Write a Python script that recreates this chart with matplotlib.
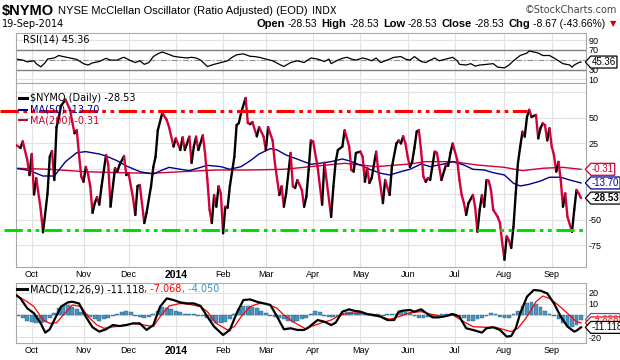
import numpy as np
import pandas as pd
import matplotlib
matplotlib.use("Agg")
import matplotlib.pyplot as plt
from matplotlib.collections import LineCollection
from matplotlib.lines import Line2D
from matplotlib.path import Path
from matplotlib import font_manager

# trading calendar, one session per x unit
holidays = ["2013-11-28", "2013-12-25", "2014-01-01", "2014-01-20", "2014-02-17",
            "2014-04-18", "2014-05-26", "2014-07-04", "2014-09-01"]
sessions = pd.bdate_range("2013-09-20", "2014-09-19", freq="C", holidays=holidays)

# $NYMO daily close (session number, value)
nymo_day = [0, 2, 3, 5, 6, 7, 8, 9, 11, 12, 14, 15, 16, 17, 18, 19, 20, 22, 24, 25,
            26, 27, 28, 29, 30, 31, 32, 33, 34, 35, 36, 37, 38, 40, 41, 42, 44, 45, 46, 48,
            49, 50, 52, 53, 54, 55, 57, 58, 60, 61, 62, 63, 65, 67, 68, 70, 71, 73, 74, 75,
            77, 78, 79, 80, 81, 83, 84, 85, 86, 87, 88, 89, 90, 91, 92, 93, 94, 95, 97, 98,
            99, 100, 102, 103, 104, 105, 107, 108, 110, 111, 112, 114, 115, 117, 118, 119, 120, 122, 123, 124,
            125, 127, 128, 129, 130, 131, 132, 134, 136, 137, 140, 141, 142, 143, 145, 146, 147, 148, 149, 150,
            151, 153, 154, 155, 156, 157, 158, 160, 161, 163, 164, 166, 167, 169, 170, 171, 172, 173, 174, 175,
            176, 177, 178, 179, 180, 181, 182, 183, 184, 186, 187, 188, 189, 191, 192, 193, 194, 196, 197, 198,
            199, 200, 201, 203, 204, 205, 206, 207, 208, 209, 210, 211, 212, 214, 215, 216, 217, 218, 219, 220,
            221, 222, 223, 224, 225, 226, 227, 228, 229, 231, 232, 233, 234, 235, 236, 237, 238, 239, 240, 241,
            242, 243, 244, 245, 247, 248, 249, 250, 251]
nymo = [23.5, 20.6, 27, 9, -6, 14.7, -25, -9, -40, -62, -24, 12, 17.6, -10.8, 41, 50, 62, 68, 58, 46,
        35, 38, 14, -7.5, -12.5, 2, -5, -17, -43, -33.5, -27.6, -35, -17, 13.7, 4, -37, 1, -2.6, 4, 12.7,
        -6, -4, -28.6, -45, -16.7, -15.7, -53, -43, -16.7, 2, 12, 38, 55, 48, 41, 22, 30, 18.6, 31, 18.6,
        31.7, 6, 22, 31.7, 18.6, 33, 15, -10, -40, -53, -25.5, -37, -17, -24, -63, -37, -38, -17, 12, 43,
        45, 55, 69.6, 45, 44, 46, 32, 41, 31.7, 18.6, 41, 28, 6, -25.5, -17, -37, -24, 15.7, -17, -18.6,
        -10.8, -20.6, -37, -27, -1, 28, 27, 2, -35, 6, -47, -17, 7, 18.6, 22, 38, 30, 22, -1, -2.6,
        15.7, 17, 12, -12.5, 1, -13.7, -9, 17, -2.6, -33.5, -10.8, -25.5, 2, 25, 28, 25, 32, 25, 12, 2,
        7, 20.6, 36.6, 38, 17, -7.5, -12.5, -9, -10.8, 17, 16, 2, -10.8, 4, 3, 15.7, 25, 9, -10.8, -25.5,
        -33.5, -45, -33.5, -25.5, -38, -61.5, -40, -25.5, -37, -10.8, -11.5, -20.6, -40, -47, -53, -72.5, -89, -66, -70, -77.5,
        -56.6, -24, 6, 22, 36.6, 31.7, 51, 58, 51, 53, 30, 40, 44.7, 43, 28, 40, 22, 13.7, -2.6, 7,
        -10.8, -37, -24, -47, -61.5, -40, -20.6, -24, -28.53]

ma50_day = [0, 6, 12, 17, 22, 27, 31, 37, 40, 45, 49, 55, 61, 65, 68, 73, 77, 82, 85, 91,
            95, 100, 104, 108, 113, 116, 120, 126, 131, 135, 140, 145, 148, 153, 157, 162, 166, 171, 175, 180,
            184, 190, 194, 199, 203, 208, 212, 217, 221, 224, 228, 233, 237, 242, 246, 251]
ma50 = [0.7, -1.6, -6.9, -6.9, 7.2, 16, 17, 14.7, 12.7, 8, 3, -2.6, -5, -1, 1.6, -0.3, -1.6, 1.6, 3.6, 2.3,
        -0.3, 2.3, 8, 14.7, 20, 18.6, 13.7, 8.8, 4.6, 5.6, 7.2, 9.8, 8, 3.9, -0.3, -4.2, -5.9, -2.6, -0.3, 4.9,
        2.3, 4.9, 7.2, 3.9, -0.3, -1, -3.6, -5.9, -14, -16.7, -15, -11.8, -8.1, -8.1, -10.8, -13.70]

ma200_day = [0, 15, 30, 45, 60, 74, 89, 104, 119, 131, 146, 160, 175, 182, 194, 205, 217, 225, 234, 243, 251]
ma200 = [0.7, -0.3, -2.6, -3.6, -4.2, -2.6, -1, -1, -0.3, 2.3, 5.6, 2.3, 4.9, 7.2, 7.2, 3.9, 1.6, -1.6, 0.7, 1.6, -0.31]

rsi_day = [0, 3, 5, 8, 9, 11, 13, 14, 17, 19, 21, 24, 27, 30, 32, 34, 37, 40, 42, 45,
           47, 48, 51, 53, 55, 57, 59, 61, 63, 65, 68, 70, 73, 76, 78, 80, 82, 85, 88, 91,
           94, 96, 98, 101, 104, 106, 108, 111, 114, 117, 119, 122, 125, 128, 131, 134, 137, 139, 140, 143,
           145, 147, 149, 151, 154, 156, 158, 160, 162, 164, 166, 168, 171, 173, 175, 177, 180, 182, 184, 186,
           188, 191, 194, 196, 197, 200, 202, 204, 206, 209, 212, 214, 217, 219, 221, 224, 227, 228, 230, 232,
           234, 237, 239, 241, 243, 246, 247, 248, 250, 251]
rsi = [51.4, 49.3, 45.7, 47.9, 42, 35.7, 44.3, 51.4, 53.6, 58.6, 56.4, 53.6, 50.7, 42, 39.3, 43.6, 46.4, 52.9, 49.3, 49.3,
       53.6, 55, 47.9, 44.3, 47.9, 40.7, 44.3, 56.4, 62, 65.7, 60.7, 57, 55, 53.6, 55, 53.6, 49.3, 36.4, 40.7, 44.3,
       47.9, 55, 60, 62, 57, 56.4, 55, 51.4, 47.9, 40.7, 36.4, 44.3, 47.9, 44.3, 53.6, 51.4, 46.4, 51.4, 42.1, 49.3,
       52.9, 55, 51.4, 49.3, 53.6, 51.4, 47.9, 53.6, 44.3, 47.9, 51.4, 55, 56.4, 51.4, 49.3, 56.4, 46.4, 44.3, 49.3, 53.6,
       47.9, 51.4, 55, 47.9, 40.7, 39.3, 42.1, 37.1, 39.3, 40.7, 42.1, 35, 33.6, 39.3, 47.9, 58.6, 63.6, 67.9, 65.7, 63.6,
       58.6, 58.6, 53.6, 47.9, 42.1, 39.3, 35, 39.3, 44.3, 45.36]

macd_day = [0, 2, 5, 8, 11, 13, 15, 17, 20, 23, 25, 28, 31, 34, 37, 40, 43, 46, 49, 52,
            55, 58, 61, 64, 67, 70, 73, 76, 79, 82, 85, 88, 92, 95, 98, 101, 104, 107, 110, 113,
            116, 119, 122, 125, 128, 130, 134, 137, 140, 142, 145, 148, 150, 153, 156, 159, 162, 165, 168, 170,
            172, 175, 177, 180, 182, 185, 188, 191, 194, 197, 200, 203, 207, 209, 212, 215, 218, 220, 222, 224,
            227, 230, 233, 236, 239, 242, 245, 248, 249, 251]
macd = [17.9, 14.9, 6, 1.5, -7.5, -15.8, -12.8, -4.5, 7.5, 11.3, 11.9, 10.4, -1.5, -11, -14.9, -12.8, -9, -9.9, -9, -7.5,
        -7.5, -13.4, -9, 7.5, 14.9, 13.4, 11.3, 10.4, 10.4, 8.1, -1.5, -10.4, -17.9, -13.4, 1.5, 13.4, 14, 11.9, 10.4, 9,
        -1.5, -12.8, -11.9, -13.4, -13.4, -11, -4.5, -6, -9, -6.9, 3, 5.1, 3.9, 3, 0.9, 0, -1.5, -4.5, -4.5, 3,
        3.9, 4.5, 3, 5.1, 2.1, -2.1, -2.1, -0.9, 0.9, -1.5, -11.9, -13.4, -15.8, -11.9, -11, -13.4, -19.4, -18.8, -11.9, 1.5,
        16.4, 22.4, 21.8, 19.4, 10.4, -1.5, -10.4, -14.9, -14, -11.118]

signal_day = [0, 5, 8, 12, 15, 18, 23, 25, 29, 32, 36, 39, 42, 46, 52, 57, 61, 64, 68, 73,
              77, 82, 85, 89, 94, 97, 100, 104, 108, 111, 116, 119, 123, 129, 131, 135, 140, 144, 148, 153,
              157, 162, 166, 171, 175, 180, 184, 190, 194, 199, 203, 208, 213, 220, 223, 227, 231, 234, 237, 240,
              245, 249, 251]
signal = [17.9, 11.9, 7.5, -4.5, -7.5, -6.9, 4.5, 9, 7.5, -1.5, -9, -11.9, -11, -9.9, -7.5, -9, -10.4, -1.5, 8.1, 10.4,
          9.6, 7.5, 3, -7.5, -13.4, -10.4, -1.5, 7.5, 10.4, 10.4, 6, 0, -6, -12.8, -10.4, -7.5, -4.5, 0, 1.5, 2.1,
          0, -1.5, -3.9, -0.9, 2.1, 3, 0.9, -1.5, 0, -6, -10.4, -11, -11, -14.9, -11.9, -1.5, 11.9, 17, 14.9, 10.4,
          1.5, -6, -7.068]

# histogram, one bar every second session (sessions 1, 3, ..., 251)
hist = [-1, -3, -5, -6, -7, -7, -6, -3, 2, 6, 8, 9, 7, 5, 3, 1, -2, -4, -5, -4,
        -3, -1, 1, 3, 4, 3, -1, -2, -3, -2, 1, 4, 7, 6, 5, 4, 3, 1, 0.5, 1,
        -1, -1, -3, -5, -7, -7, -6, -4, 1, 5, 8, 8, 7, 6, 4, 2, -1, -2, -3, -4,
        -5, -6, -5, -4, -3, 0.5, 4, 3, -1, -2, -2, -1, 2, 3, 3, 2, 2, 1, 0.5, -1,
        0.5, -1, 1, 0.5, 1, 3, 3, 2, -1, -3, -3, -2, -1, -0.5, 1, 1, 0.5, 1, -0.5, -3,
        -5, -5, -4, -3, -1, 2, 1, -2, -3, -3, 1, 4, 8, 11, 12, 10, 7, 4, 1, -1,
        -4, -7, -10, -11, -9, -4.05]
hist_day = list(range(1, 252, 2))

overbought = 57
oversold = -60

# month ticks: first session of each month
idx = pd.Series(np.arange(len(sessions)), index=sessions)
firsts = idx.groupby(sessions.to_period("M")).first().iloc[1:]
month_pos = firsts.values
month_lab = ["2014" if p.month == 1 else p.strftime("%b") for p in firsts.index]

names = {f.name for f in font_manager.fontManager.ttflist}
narrow = "Liberation Sans Narrow" if "Liberation Sans Narrow" in names else "Liberation Sans"
plt.rcParams["font.family"] = ["Liberation Sans", "DejaVu Sans"]

W, H = 620, 360
fig = plt.figure(figsize=(6.2, 3.6), dpi=100)
fig.patch.set_facecolor("white")


def fx(px):
    return px / W


def fy(py):
    return 1 - py / H


L, R = 16, 585.5
ax_rsi = fig.add_axes([fx(L), fy(83), fx(R - L), (83 - 33) / H])
ax = fig.add_axes([fx(L), fy(267), fx(R - L), (267 - 83) / H])
ax_m = fig.add_axes([fx(L), fy(343), fx(R - L), (343 - 283) / H])


def style(a, yticks, ylabels, ylim):
    a.set_xlim(0, 253)
    a.set_ylim(*ylim)
    a.set_xticks(month_pos)
    a.set_yticks(yticks)
    a.set_yticklabels(ylabels)
    a.yaxis.tick_right()
    a.tick_params(length=0, labelsize=6.5, pad=2)
    a.grid(True, color="#e2e2e2", lw=0.8)
    a.set_axisbelow(True)
    for s in a.spines.values():
        s.set_color("#a8a8a8")
        s.set_linewidth(0.8)


def month_labels(a):
    a.set_xticklabels(month_lab)
    for t in a.get_xticklabels():
        if t.get_text() == "2014":
            t.set_fontweight("bold")
            t.set_fontsize(7.5)


def tag_box(x0, y0, width, height, mutation_size):
    pad = 0.1 * mutation_size
    x0, y0 = x0 - pad, y0 - pad
    x1, y1 = x0 + width + 2 * pad, y0 + height + 2 * pad
    ym = (y0 + y1) / 2
    tip = (y1 - y0) * 0.45
    return Path([(x0 - tip, ym), (x0, y1), (x1, y1), (x1, y0), (x0, y0), (x0 - tip, ym)], closed=True)


def tag(a, y, text, ec, tc, bold=False):
    a.annotate(text, xy=(1, y), xycoords=a.get_yaxis_transform(), xytext=(4.5, 0),
               textcoords="offset points", ha="left", va="center", fontsize=7, color=tc,
               fontweight="bold" if bold else "normal", annotation_clip=False, zorder=6,
               bbox=dict(boxstyle=tag_box, fc="white", ec=ec, lw=0.9))


# ---- RSI panel (50 label sits under the value tag)
style(ax_rsi, [10, 30, 50, 70, 90], ["10", "30", "", "70", "90"], (2.9, 104.2))
ax_rsi.set_xticklabels([])
ax_rsi.axhline(70, color="#808080", lw=1)
ax_rsi.axhline(30, color="#808080", lw=1)
ax_rsi.axhline(50, color="#909090", lw=0.8, ls=(0, (5, 2, 1, 2)))
ax_rsi.plot(rsi_day, rsi, color="black", lw=0.9)
ax_rsi.text(0.012, 0.97, "RSI(14) 45.36", transform=ax_rsi.transAxes, fontsize=7,
            family="DejaVu Sans", va="top", ha="left")
tag(ax_rsi, 45.36, "45.36", "black", "black")

# ---- main panel (0 and -25 labels sit under the value tags)
style(ax, [-75, -50, -25, 0, 25, 50], ["-75", "-50", "", "", "25", "50"], (-96.1, 84.3))
ax.set_yticks([75], minor=True)
ax.grid(True, which="minor", color="#e2e2e2", lw=0.8)
ax.tick_params(which="minor", length=0)
month_labels(ax)
ax.plot(ma200_day, ma200, color="#cc0033", lw=1)
ax.plot(ma50_day, ma50, color="#000088", lw=1)
pts = np.column_stack([nymo_day, nymo])
segs = np.stack([pts[:-1], pts[1:]], axis=1)
cols = ["black" if b > a else "#d4003a" for a, b in zip(nymo[:-1], nymo[1:])]
ax.add_collection(LineCollection(segs, colors=cols, linewidths=1.7, capstyle="round",
                                 joinstyle="round", zorder=4))
ax.plot([-7.1, 227], [overbought] * 2, color="#ff0000", lw=2.2, clip_on=False, zorder=5,
        ls=(0, (6, 1.5, 1.2, 1.5, 1.2, 1.5)))
ax.plot([-5.3, 253], [oversold] * 2, color="#00e000", lw=2.2, clip_on=False, zorder=5,
        ls=(0, (6, 1.5, 1.2, 1.5, 1.2, 1.5)))
tag(ax, ma200[-1], "-0.31", "#cc0033", "#cc0033")
tag(ax, ma50[-1], "-13.70", "#000088", "#000088")
tag(ax, nymo[-1], "-28.53", "black", "black", bold=True)

leg = [(98, "black", 2.2, r"\$NYMO (Daily) -28.53"),
       (109.5, "#000088", 1.5, "MA(50) -13.70"),
       (120.5, "#cc0033", 1.5, "MA(200) -0.31")]
for py, c, lw, s in leg:
    fig.add_artist(Line2D([fx(19), fx(27)], [fy(py)] * 2, color=c, lw=lw))
    fig.text(fx(30), fy(py), s, color="black" if c == "black" else c, fontsize=7,
             family="DejaVu Sans", va="center", ha="left")

# ---- MACD panel (-10 label sits under the value tags)
style(ax_m, [-20, -10, 0, 10, 20], ["-20", "", "0", "10", "20"], (-25.1, 28.7))
month_labels(ax_m)
ax_m.bar(hist_day, hist, width=1.7, color="#4a94c0", edgecolor="#2a5f80", lw=0.3, zorder=2)
ax_m.plot(signal_day, signal, color="#ff0000", lw=0.9, zorder=3)
ax_m.plot(macd_day, macd, color="black", lw=1.6, zorder=4)
tag(ax_m, -4.05, "-4.050", "#3366aa", "#3399cc")
tag(ax_m, -7.068, "-7.068", "#ff0000", "#ff0000")
tag(ax_m, -11.118, "-11.118", "black", "black")

fig.add_artist(Line2D([fx(17), fx(27)], [fy(289)] * 2, color="black", lw=2.2))
t = fig.text(fx(30), fy(289), "MACD(12,26,9) -11.118", fontsize=7, family="DejaVu Sans",
             va="center", ha="left")
t = ax_m.annotate(", -7.068", xy=(1, 0.5), xycoords=t, va="center", ha="left",
                  fontsize=7, family="DejaVu Sans", color="#ff0000")
ax_m.annotate(", -4.050", xy=(1, 0.5), xycoords=t, va="center", ha="left",
              fontsize=7, family="DejaVu Sans", color="#3399cc")

# ---- header
t = fig.text(fx(2), fy(11), r"\$NYMO", fontsize=10.5, fontweight="bold", family=narrow,
             va="center", ha="left")
t = ax.annotate("NYSE McClellan Oscillator (Ratio Adjusted) (EOD)", xy=(1, 0.5), xycoords=t,
                xytext=(3, 0), textcoords="offset points", va="center", ha="left",
                fontsize=8, family=narrow)
ax.annotate("INDX", xy=(1, 0.5), xycoords=t, xytext=(3, 0), textcoords="offset points",
            va="center", ha="left", fontsize=7, family="DejaVu Sans")
fig.text(fx(617), fy(10), "\u00a9StockCharts.com", fontsize=7, color="#444444",
         family="DejaVu Sans", va="center", ha="right")
fig.text(fx(2), fy(24), "19-Sep-2014", fontsize=7, family="DejaVu Sans", va="center", ha="left")

parts = [("Open", True, "black"), ("-28.53", False, "black"), ("High", True, "black"),
         ("-28.53", False, "black"), ("Low", True, "black"), ("-28.53", False, "black"),
         ("Close", True, "black"), ("-28.53", False, "black"), ("Chg", True, "black"),
         ("-8.67 (-43.66%)", False, "black"), ("\u25bc", False, "#cc0000")]
prev = None
for s, bold, c in reversed(parts):
    kw = dict(fontsize=8 if bold else 7.5, fontweight="bold" if bold else "normal", color=c,
              family=narrow, va="center", ha="right")
    if prev is None:
        kw.update(fontsize=6, family="DejaVu Sans")
        prev = fig.text(fx(616), fy(24), s, **kw)
    else:
        gap = -2 if bold else -3
        prev = ax.annotate(s, xy=(0, 0.5), xycoords=prev, xytext=(gap, 0),
                           textcoords="offset points", **kw)

fig.savefig("out.png", dpi=100)
